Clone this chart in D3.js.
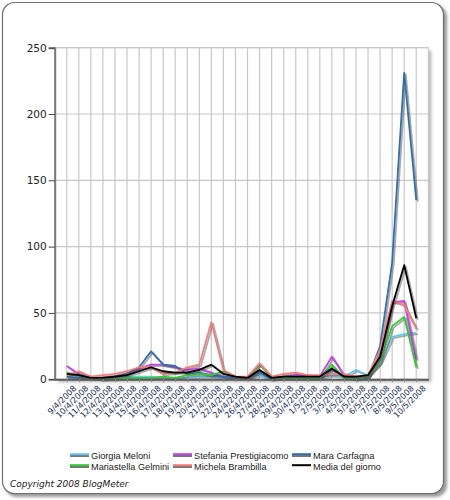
<!DOCTYPE html>
<html>
<head>
<meta charset="utf-8">
<script src="https://cdn.jsdelivr.net/npm/d3@7"></script>
<style>
  html, body { margin: 0; padding: 0; background: #fff; }
  svg { display: block; }
</style>
</head>
<body>
<svg id="chart" width="450" height="500"></svg>
<script>
// categories (two April dates are absent in the source chart)
const dates = ['9/4/2008', '10/4/2008', '11/4/2008', '12/4/2008', '13/4/2008', '14/4/2008',
  '15/4/2008', '16/4/2008', '17/4/2008', '18/4/2008', '19/4/2008', '20/4/2008', '21/4/2008',
  '22/4/2008', '24/4/2008', '26/4/2008', '27/4/2008', '28/4/2008', '29/4/2008', '30/4/2008',
  '1/5/2008', '2/5/2008', '3/5/2008', '4/5/2008', '5/5/2008', '6/5/2008', '7/5/2008',
  '8/5/2008', '9/5/2008', '10/5/2008'];

const seriesNames = ['Giorgia Meloni', 'Stefania Prestigiacomo', 'Mara Carfagna',
  'Mariastella Gelmini', 'Michela Brambilla', 'Media del giorno'];
const seriesColors = ['#66c8f0', '#c83cf0', '#2f6fb0', '#2ecc2e', '#f87a7a', '#000000'];

const meloni       = [1, 1, 1, 0, 1, 2, 2, 2, 1, 1, 1, 2, 2, 1, 1, 1, 3, 0, 1, 1, 1, 1, 3, 2, 7, 3, 12, 32, 34, 35];
const prestigiacomo = [10, 4, 1, 1, 2, 4, 8, 11, 11, 9, 7, 8, 5, 2, 1, 1, 6, 1, 2, 3, 3, 2, 17, 3, 1, 2, 15, 58, 59, 15];
const carfagna     = [2, 1, 1, 1, 2, 4, 9, 21, 11, 10, 4, 5, 3, 2, 1, 1, 5, 0, 1, 1, 1, 1, 7, 2, 0, 1, 25, 88, 231, 135];
const gelmini      = [5, 3, 1, 0, 0, 1, 1, 1, 2, 1, 3, 4, 3, 6, 2, 1, 11, 1, 1, 1, 1, 1, 11, 1, 0, 2, 13, 40, 47, 9];
const brambilla    = [3, 6, 2, 3, 4, 6, 9, 9, 4, 5, 9, 11, 43, 7, 2, 2, 12, 2, 4, 5, 3, 3, 4, 4, 2, 3, 22, 59, 56, 38];
const media        = [4, 3, 1, 1, 2, 3, 6, 9, 6, 5, 5, 7, 11, 4, 2, 1, 7, 1, 2, 2, 2, 2, 8, 2, 2, 3, 17, 55, 86, 46];

const yTicks = [0, 50, 100, 150, 200, 250];

const allSeries = [meloni, prestigiacomo, carfagna, gelmini, brambilla, media];

const svg = d3.select('#chart');

// outer rounded frame with a soft shadow
const defs = svg.append('defs');
const blur = defs.append('filter').attr('id', 'blur')
  .attr('x', '-10%').attr('y', '-10%').attr('width', '120%').attr('height', '120%');
blur.append('feGaussianBlur').attr('stdDeviation', 1.5);

svg.append('rect')
  .attr('x', 5).attr('y', 5).attr('width', 442).attr('height', 492)
  .attr('rx', 12).attr('fill', '#9a9a9a').attr('filter', 'url(#blur)');
svg.append('rect')
  .attr('x', 2.5).attr('y', 2.5).attr('width', 441).attr('height', 491)
  .attr('rx', 12).attr('fill', '#fff').attr('stroke', '#6e6e6e').attr('stroke-width', 1.2);

// plot area
const plot = { left: 54.7, top: 47.7, right: 428.3, bottom: 379.2 };

const x = d3.scalePoint()
  .domain(d3.range(dates.length))
  .range([plot.left, plot.right])
  .padding(1);

const y = d3.scaleLinear()
  .domain([0, 250])
  .range([plot.bottom, plot.top]);

// plot shadow (right and bottom)
svg.append('rect')
  .attr('x', plot.left + 3).attr('y', plot.top + 3)
  .attr('width', plot.right - plot.left).attr('height', plot.bottom - plot.top)
  .attr('fill', '#b8b8b8').attr('filter', 'url(#blur)');
svg.append('rect')
  .attr('x', plot.left).attr('y', plot.top)
  .attr('width', plot.right - plot.left).attr('height', plot.bottom - plot.top)
  .attr('fill', '#fff').attr('stroke', '#c8c8c8').attr('stroke-width', 1);

// grid lines
const grid = svg.append('g');
grid.selectAll('.vgrid')
  .data(d3.range(dates.length))
  .join('line')
  .attr('x1', d => x(d)).attr('x2', d => x(d))
  .attr('y1', plot.top).attr('y2', plot.bottom)
  .attr('stroke', '#c8c8c8').attr('stroke-width', 1.2);
grid.selectAll('.hgrid')
  .data(yTicks.slice(1))
  .join('line')
  .attr('x1', plot.left).attr('x2', plot.right)
  .attr('y1', d => y(d)).attr('y2', d => y(d))
  .attr('stroke', '#c8c8c8').attr('stroke-width', 1.2);

// series lines, each with a grey shadow
const line = d3.line()
  .x((d, i) => x(i))
  .y(d => y(d));

const lines = svg.append('g');
allSeries.forEach((values, s) => {
  lines.append('path')
    .datum(values)
    .attr('d', line)
    .attr('fill', 'none')
    .attr('stroke', '#555')
    .attr('stroke-opacity', 0.5)
    .attr('stroke-width', 1.8)
    .attr('stroke-linejoin', 'round')
    .attr('transform', 'translate(1.6,1.4)');
  lines.append('path')
    .datum(values)
    .attr('d', line)
    .attr('fill', 'none')
    .attr('stroke', seriesColors[s])
    .attr('stroke-width', 1.8)
    .attr('stroke-linejoin', 'round');
});

// y axis
const yAxis = svg.append('g')
  .attr('transform', `translate(${plot.left},0)`)
  .call(d3.axisLeft(y).tickValues(yTicks).tickSize(6).tickPadding(2));
yAxis.select('.domain').attr('stroke', '#7a7a7a').attr('stroke-width', 2);
yAxis.selectAll('.tick line').attr('stroke', '#444').attr('stroke-width', 1);
yAxis.selectAll('.tick text')
  .attr('font-family', 'Tahoma, "DejaVu Sans", sans-serif')
  .attr('font-size', 10.5).attr('fill', '#222');

// x axis
const xAxis = svg.append('g')
  .attr('transform', `translate(0,${plot.bottom})`)
  .call(d3.axisBottom(x).tickFormat(i => dates[i]).tickSize(3).tickSizeOuter(0).tickPadding(3));
xAxis.select('.domain').attr('stroke', '#5a5a5a').attr('stroke-width', 2);
xAxis.selectAll('.tick line').attr('stroke', '#888');
xAxis.selectAll('.tick text')
  .attr('font-family', 'Tahoma, "DejaVu Sans", sans-serif')
  .attr('font-size', 8.2).attr('fill', '#24305a')
  .attr('text-anchor', 'end')
  .attr('dy', '0.6em')
  .attr('transform', 'translate(2,2) rotate(-45)');

// legend
const legendCols = [70, 173, 292];
const legendRows = [455, 466];
const legend = svg.append('g');
seriesNames.forEach((name, i) => {
  const lx = legendCols[i % 3];
  const ly = legendRows[Math.floor(i / 3)];
  legend.append('line')
    .attr('x1', lx).attr('x2', lx + 19)
    .attr('y1', ly + 1).attr('y2', ly + 1)
    .attr('stroke', i === 5 ? 'none' : '#777').attr('stroke-width', 2);
  legend.append('line')
    .attr('x1', lx).attr('x2', lx + 19)
    .attr('y1', ly - 0.8).attr('y2', ly - 0.8)
    .attr('stroke', seriesColors[i]).attr('stroke-width', 2);
  legend.append('text')
    .attr('x', lx + 21).attr('y', ly + 3.5)
    .attr('font-family', '"Liberation Sans", Arial, sans-serif')
    .attr('font-size', 9.2).attr('fill', '#1a1a1a')
    .text(name);
});

svg.append('text')
  .attr('x', 10).attr('y', 487)
  .attr('font-family', 'Verdana, "DejaVu Sans", sans-serif')
  .attr('font-size', 9).attr('font-style', 'italic').attr('fill', '#222')
  .text('Copyright 2008 BlogMeter');
</script>
</body>
</html>
